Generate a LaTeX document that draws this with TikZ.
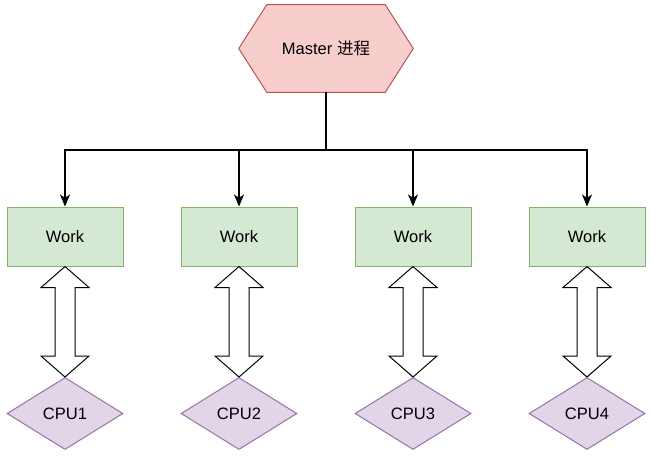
\documentclass[tikz,border=0pt]{standalone}
\usepackage{fontspec}
\setmainfont{Liberation Sans}
\newfontfamily\cjk{Noto Sans CJK SC}
\usepackage{xcolor}
\definecolor{rosefill}{HTML}{F8CECC}
\definecolor{rosedraw}{HTML}{B85450}
\definecolor{sagefill}{HTML}{D5E8D4}
\definecolor{sagedraw}{HTML}{82B366}
\definecolor{lilacfill}{HTML}{E1D5E7}
\definecolor{lilacdraw}{HTML}{9673A6}
\usepackage{tikz}
\usetikzlibrary{arrows.meta,positioning,calc,shapes.geometric,backgrounds}
\tikzset{
  >=Stealth,
  font=\fontsize{12.4}{14}\selectfont,
  hexa/.style={draw=rosedraw,fill=rosefill,line width=0.75pt},
  work/.style={draw=sagedraw,fill=sagefill,line width=0.75pt,
               minimum width=87pt,minimum height=44.25pt,inner sep=0pt},
  cpu/.style={diamond,draw=lilacdraw,fill=lilacfill,line width=0.75pt,
              minimum width=87pt,minimum height=54pt,inner sep=0pt},
  flow/.style={-{Stealth[length=9pt,width=7.5pt,inset=2.5pt]},line width=1pt},
  dbl/.style={draw=black,fill=white,line width=0.75pt,line join=miter},
}

\begin{document}
\begin{tikzpicture}[x=0.75pt,y=-0.75pt]
  \useasboundingbox (0,0) rectangle (652,455);
  \node[minimum width=130.5pt,minimum height=65.25pt,inner sep=0pt] (master) at (326,48.5) {Master {\cjk 进程}};
  \begin{scope}[on background layer]
    \draw[hexa] (master.west) -- ($(master.north west)+(28,0)$) -- ($(master.north east)+(-28,0)$)
      -- (master.east) -- ($(master.south east)+(-28,0)$) -- ($(master.south west)+(28,0)$) -- cycle;
  \end{scope}
  \coordinate (bus) at (326,150);
  \foreach \i/\x in {1/65,2/239,3/413,4/587} {
    \node[work] (w\i) at (\x,236.5) {Work};
    \node[cpu] (c\i) at (\x,413.5) {CPU\i};
    \draw[flow] (master.south) |- (bus -| w\i) -- (w\i.north);
    \draw[dbl] (w\i.south) -- ++(24,21) -- ++(-14,0) -- ($(c\i.north)+(10,-21)$) -- ++(14,0)
      -- (c\i.north) -- ++(-24,-21) -- ++(14,0) -- ($(w\i.south)+(-10,21)$) -- ++(-14,0) -- cycle;
  }
\end{tikzpicture}
\end{document}
